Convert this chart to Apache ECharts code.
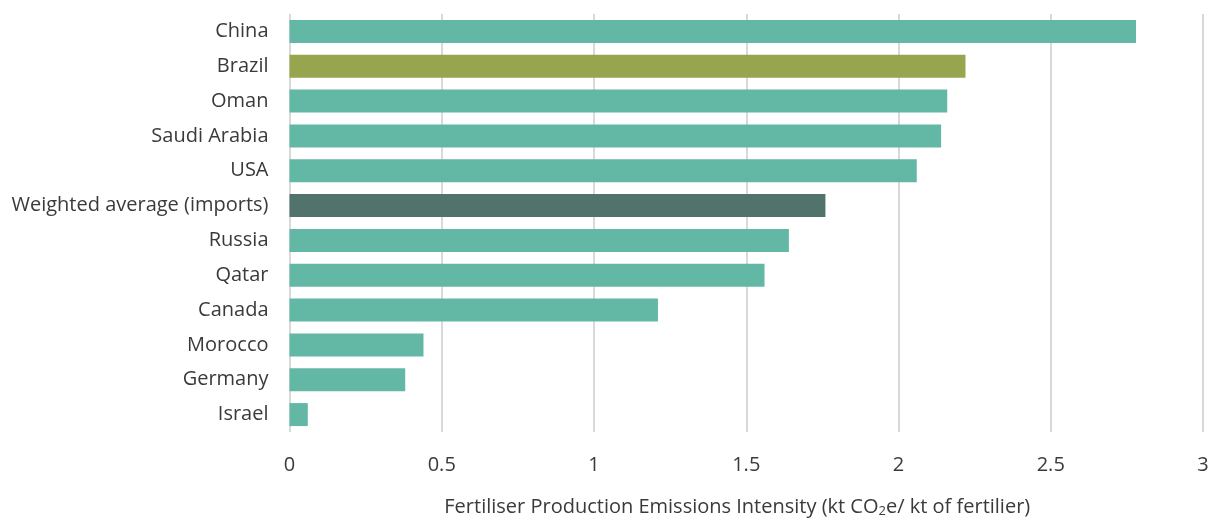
<!DOCTYPE html>
<html>
<head>
<meta charset="utf-8">
<script src="https://cdn.jsdelivr.net/npm/echarts@6/dist/echarts.min.js"></script>
<style>
  html, body { margin: 0; padding: 0; background: #fff; }
  #chart { width: 1214px; height: 520px; }
</style>
</head>
<body>
<div id="chart"></div>
<script>
// Emissions intensity of fertiliser production by country
const countries = ['China', 'Brazil', 'Oman', 'Saudi Arabia', 'USA', 'Weighted average (imports)',
  'Russia', 'Qatar', 'Canada', 'Morocco', 'Germany', 'Israel'];
const intensity = [2.78, 2.22, 2.16, 2.14, 2.06, 1.76, 1.64, 1.56, 1.21, 0.44, 0.38, 0.06];
const xTicks = [0, 0.5, 1, 1.5, 2, 2.5, 3];

const TEAL = '#63b7a5';
const highlight = { 'Brazil': '#98a54f', 'Weighted average (imports)': '#52736b' };

const FONT = '"Open Sans", "Noto Sans", sans-serif';
const TEXT = '#3a3a3a';
const chart = echarts.init(document.getElementById('chart'));

chart.setOption({
  animation: false,
  grid: { left: 289.5, right: 11, top: 14, bottom: 88, containLabel: false, outerBoundsMode: 'none' },
  xAxis: {
    type: 'value',
    min: xTicks[0],
    max: xTicks[xTicks.length - 1],
    interval: 0.5,
    axisLine: { show: false },
    axisTick: { show: false },
    splitLine: { show: true, lineStyle: { color: '#d9d9d9', width: 2 } },
    axisLabel: {
      color: TEXT, fontSize: 20, fontFamily: FONT, margin: 23,
      formatter: v => String(v)
    },
    name: 'Fertiliser Production Emissions Intensity (kt CO{sub|2}e/ kt of fertilier)',
    nameLocation: 'middle',
    nameGap: 64,
    nameTextStyle: {
      color: TEXT, fontSize: 20, fontFamily: FONT, padding: [0, 18, 0, 0],
      rich: {
        sub: { fontSize: 13, fontFamily: FONT, color: TEXT, verticalAlign: 'bottom', padding: [9, 0, 0, 0] }
      }
    }
  },
  yAxis: {
    type: 'category',
    data: countries,
    inverse: true,
    axisLine: { show: false },
    axisTick: { show: false },
    axisLabel: { color: TEXT, fontSize: 20, fontFamily: FONT, margin: 21 }
  },
  series: [{
    type: 'bar',
    data: intensity.map((v, i) => ({
      value: v,
      itemStyle: { color: highlight[countries[i]] || TEAL }
    })),
    barCategoryGap: '34%'
  }]
});
</script>
</body>
</html>
